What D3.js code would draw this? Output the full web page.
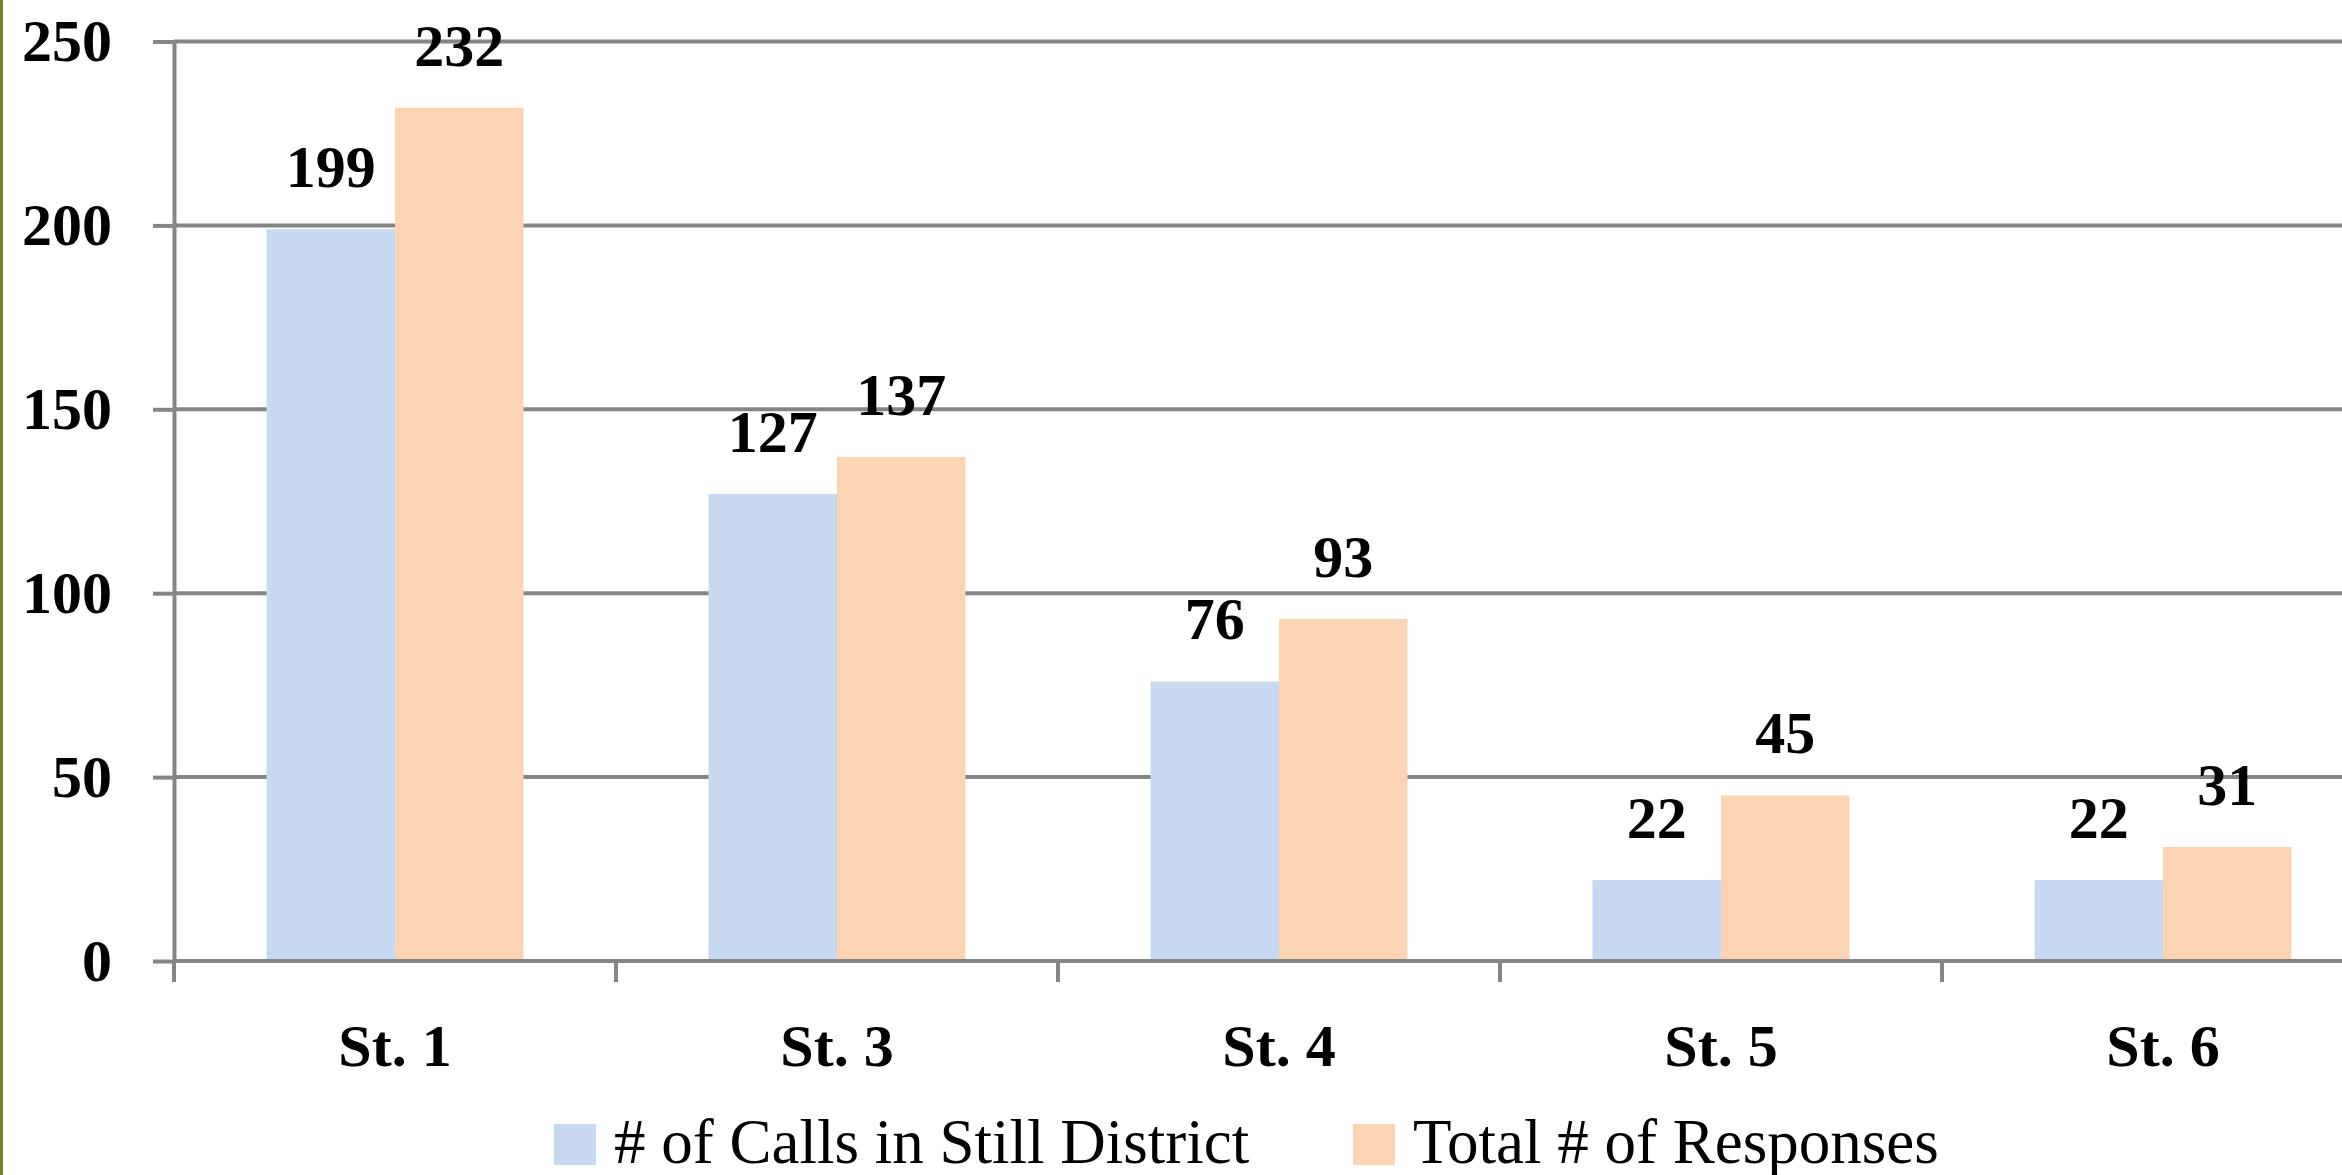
<!DOCTYPE html>
<html>
<head>
<meta charset="utf-8">
<script src="https://cdn.jsdelivr.net/npm/d3@7"></script>
<style>
  html, body { margin: 0; padding: 0; background: #fff; }
  svg { display: block; }
</style>
</head>
<body>
<svg id="chart" width="2342" height="1175"></svg>
<script>
// chart data
var stations = ["St. 1", "St. 3", "St. 4", "St. 5", "St. 6"];
var seriesNames = ["# of Calls in Still District", "Total # of Responses"];
var callsInDistrict = [199, 127, 76, 22, 22];
var totalResponses = [232, 137, 93, 45, 31];
var yTicks = [0, 50, 100, 150, 200, 250];
var colors = ["#c6d9f1", "#fbd4b4"];

var rows = stations.map(function(s, i) {
  return { station: s, values: [callsInDistrict[i], totalResponses[i]] };
});

var svg = d3.select("#chart"),
    width = +svg.attr("width"),
    height = +svg.attr("height");

var plotLeft = 174, plotTop = 41.5, plotBottom = 961, step = 442;
var gridColor = "#858585", lineW = 4;
var font = "'Liberation Serif', 'Times New Roman', serif";

// olive frame edge on the left
svg.append("rect")
    .attr("x", 0).attr("y", 0)
    .attr("width", 3).attr("height", height)
    .attr("fill", "#6f7f2a");

var x0 = d3.scaleBand()
    .domain(stations)
    .range([plotLeft, plotLeft + step * stations.length])
    .padding(0);

var x1 = d3.scaleBand()
    .domain([0, 1])
    .range([0, x0.bandwidth()])
    .paddingInner(0)
    .paddingOuter(0.72);

var y = d3.scaleLinear()
    .domain([0, 250])
    .range([plotBottom, plotTop]);

// gridlines
svg.append("g")
  .selectAll("line")
  .data(yTicks)
  .enter().append("line")
    .attr("x1", plotLeft).attr("x2", width)
    .attr("y1", function(d) { return y(d); })
    .attr("y2", function(d) { return y(d); })
    .attr("stroke", gridColor)
    .attr("stroke-width", lineW);

// y axis
var yAxis = svg.append("g")
    .attr("transform", "translate(" + plotLeft + ",0)")
    .call(d3.axisLeft(y).tickValues(yTicks).tickSizeInner(21).tickSizeOuter(0).tickPadding(41));
yAxis.select(".domain").attr("stroke", gridColor).attr("stroke-width", lineW);
yAxis.selectAll(".tick line").attr("stroke", gridColor).attr("stroke-width", lineW);
yAxis.selectAll(".tick text")
    .attr("fill", "#000")
    .attr("dy", "0.32em")
    .style("font-family", font)
    .style("font-weight", "bold")
    .style("font-size", "60px");

// y axis line continues below baseline
svg.append("line")
    .attr("x1", plotLeft).attr("x2", plotLeft)
    .attr("y1", plotBottom).attr("y2", plotBottom + 21)
    .attr("stroke", gridColor).attr("stroke-width", lineW);

// category boundary ticks
svg.append("g")
  .selectAll("line")
  .data(stations)
  .enter().append("line")
    .attr("x1", function(d) { return x0(d) + x0.bandwidth(); })
    .attr("x2", function(d) { return x0(d) + x0.bandwidth(); })
    .attr("y1", plotBottom).attr("y2", plotBottom + 21)
    .attr("stroke", gridColor).attr("stroke-width", lineW);

// x axis labels
var xAxis = svg.append("g")
    .attr("transform", "translate(0," + plotBottom + ")")
    .call(d3.axisBottom(x0).tickSize(0).tickPadding(62));
xAxis.select(".domain").remove();
xAxis.selectAll(".tick text")
    .attr("fill", "#000")
    .style("font-family", font)
    .style("font-weight", "bold")
    .style("font-size", "60px");

// bars
var group = svg.append("g")
  .selectAll("g")
  .data(rows)
  .enter().append("g")
    .attr("transform", function(d) { return "translate(" + x0(d.station) + ",0)"; });

group.selectAll("rect")
  .data(function(d) { return d.values; })
  .enter().append("rect")
    .attr("x", function(d, i) { return x1(i); })
    .attr("y", function(d) { return y(d); })
    .attr("width", x1.bandwidth())
    .attr("height", function(d) { return y(0) - y(d) - 2; })
    .attr("fill", function(d, i) { return colors[i]; });

group.selectAll("text")
  .data(function(d) { return d.values; })
  .enter().append("text")
    .attr("x", function(d, i) { return x1(i) + x1.bandwidth() / 2; })
    .attr("y", function(d) { return y(d) - 42; })
    .attr("text-anchor", "middle")
    .style("font-family", font)
    .style("font-weight", "bold")
    .style("font-size", "60px")
    .text(function(d) { return d; });

// legend
var legendX = [554, 1353];
var legend = svg.append("g")
  .selectAll("g")
  .data(seriesNames)
  .enter().append("g")
    .attr("transform", function(d, i) { return "translate(" + legendX[i] + ",1124)"; });

legend.append("rect")
    .attr("width", 42).attr("height", 41)
    .attr("fill", function(d, i) { return colors[i]; });

legend.append("text")
    .attr("x", 60).attr("y", 39)
    .style("font-family", font)
    .style("font-size", "63px")
    .text(function(d) { return d; });
</script>
</body>
</html>
